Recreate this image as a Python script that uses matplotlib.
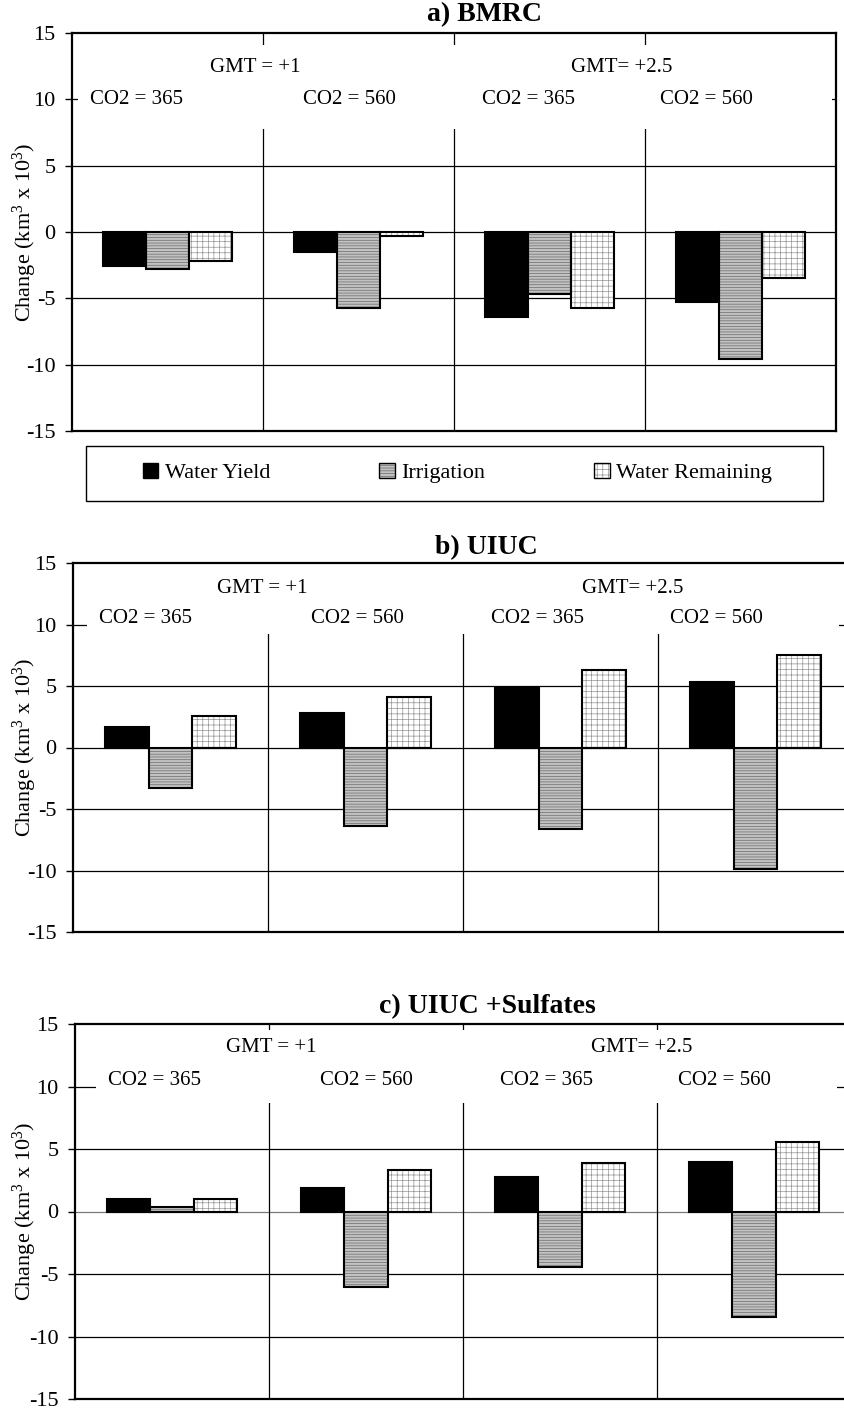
import numpy as np
import matplotlib
matplotlib.use('Agg')
import matplotlib.pyplot as plt
from matplotlib.patches import Rectangle, Patch

plt.rcParams['font.family'] = 'Liberation Serif'
plt.rcParams['mathtext.fontset'] = 'custom'
plt.rcParams['mathtext.rm'] = 'Liberation Serif'
plt.rcParams['mathtext.it'] = 'Liberation Serif:italic'
plt.rcParams['axes.unicode_minus'] = False
plt.rcParams['hatch.linewidth'] = 0.5

# --- data: change in km^3 x 10^3 for each scenario ---
scenarios = ['GMT +1 / CO2 365', 'GMT +1 / CO2 560', 'GMT +2.5 / CO2 365', 'GMT +2.5 / CO2 560']
series_names = ['Water Yield', 'Irrigation', 'Water Remaining']

bmrc_yield = [-2.6, -1.5, -6.4, -5.3]
bmrc_irrigation = [-2.8, -5.7, -4.7, -9.6]
bmrc_remaining = [-2.2, -0.3, -5.7, -3.5]

uiuc_yield = [1.7, 2.8, 4.8, 5.3]
uiuc_irrigation = [-3.3, -6.4, -6.6, -9.9]
uiuc_remaining = [2.6, 4.1, 6.3, 7.5]

sulf_yield = [1.0, 1.9, 2.8, 4.0]
sulf_irrigation = [0.4, -6.0, -4.4, -8.4]
sulf_remaining = [1.0, 3.3, 3.9, 5.6]

gmt_labels = ['GMT = +1', 'GMT= +2.5']
co2_labels = ['CO2 = 365', 'CO2 = 560', 'CO2 = 365', 'CO2 = 560']

# bar styles: face colour, hatch, hatch colour
styles = [
    dict(face='black', hatch=None, hcolor='black'),
    dict(face='#c2c2c2', hatch='------', hcolor='#6a6a6a'),
    dict(face='white', hatch='+++', hcolor='#949494'),
]

W, H = 844, 1409
fig = plt.figure(figsize=(W / 100, H / 100), dpi=100)


def px_rect(l, t, r, b):
    return [l / W, 1 - b / H, (r - l) / W, (b - t) / H]


# layout of the three panels (pixel boxes, label spots in data units)
panels = [
    dict(title='a) BMRC', data=(bmrc_yield, bmrc_irrigation, bmrc_remaining),
         box=(72, 33, 836, 431), title_xy=(485, 15),
         cover=(-0.47, 3.48, 7.8, 14.1),
         gmt_x=[0.46, 2.38], gmt_y=12.4, co2_x=[-0.16, 0.95, 1.89, 2.82], co2_y=10.0,
         zero_color='black'),
    dict(title='b) UIUC', data=(uiuc_yield, uiuc_irrigation, uiuc_remaining),
         box=(73, 563, 853, 932), title_xy=(486, 548),
         cover=(-0.43, 3.43, 9.2, 15.0),
         gmt_x=[0.47, 2.37], gmt_y=12.95, co2_x=[-0.13, 0.96, 1.88, 2.80], co2_y=10.45,
         zero_color='black'),
    dict(title='c) UIUC +Sulfates', data=(sulf_yield, sulf_irrigation, sulf_remaining),
         box=(75, 1024, 851, 1399), title_xy=(487, 1007),
         cover=(-0.39, 3.43, 8.7, 14.5),
         gmt_x=[0.51, 2.42], gmt_y=13.1, co2_x=[-0.09, 1.0, 1.93, 2.85], co2_y=10.5,
         zero_color='#7a7a7a'),
]

x = np.arange(len(scenarios))
bw = 0.225

for p in panels:
    l, t, r, b = p['box']
    ax = fig.add_axes(px_rect(l, t, r, b))
    ax.set_xlim(-0.5, 3.5)
    ax.set_ylim(-15, 15)
    ax.set_yticks(range(-15, 16, 5))
    ax.set_xticks([])
    ax.tick_params(axis='y', direction='out', length=5, width=1, labelsize=16, pad=7)

    # grid: horizontal lines and scenario dividers
    for v in [-10, -5, 0, 5, 10]:
        ax.axhline(v, color=p['zero_color'] if v == 0 else 'black', lw=0.9, zorder=1)
    for d in [0.5, 1.5, 2.5]:
        ax.axvline(d, color='black', lw=0.9, zorder=1)

    # white area behind the scenario labels
    cx0, cx1, cy0, cy1 = p['cover']
    ax.add_patch(Rectangle((cx0, cy0), cx1 - cx0, cy1 - cy0, facecolor='white',
                           edgecolor='none', zorder=1.5))

    for k, (vals, st) in enumerate(zip(p['data'], styles)):
        xs = x + (k - 1) * bw
        ax.bar(xs, vals, bw, color=st['face'], edgecolor=st['hcolor'], hatch=st['hatch'],
               linewidth=0, zorder=2)
        ax.bar(xs, vals, bw, fill=False, edgecolor='black', linewidth=1.5, zorder=2.2)

    for gx, lab in zip(p['gmt_x'], gmt_labels):
        ax.text(gx, p['gmt_y'], lab, ha='center', va='center', fontsize=15, zorder=3)
    for cx, lab in zip(p['co2_x'], co2_labels):
        ax.text(cx, p['co2_y'], lab, ha='center', va='center', fontsize=15, zorder=3)

    for side in ['left', 'bottom', 'top', 'right']:
        ax.spines[side].set_linewidth(1.6)
        ax.spines[side].set_zorder(2.5)

    fig.text(p['title_xy'][0] / W, 1 - p['title_xy'][1] / H, p['title'],
             fontsize=20, fontweight='bold', ha='center', va='center')
    fig.text(25 / W, 1 - ((t + b) / 2) / H, 'Change (km$^3$ x 10$^3$)', rotation=90,
             ha='center', va='center', fontsize=16)

# legend below the first panel
handles = []
for st in styles:
    fill = Patch(facecolor=st['face'], edgecolor=st['hcolor'], hatch=st['hatch'], linewidth=0)
    edge = Patch(fill=False, edgecolor='black', linewidth=1)
    handles.append((fill, edge))
fig.legend(handles, series_names, ncol=3, loc='center',
           bbox_to_anchor=(457.5 / W, 1 - 473 / H), frameon=False, fontsize=16,
           handlelength=0.7, handleheight=0.7, handletextpad=0.3, columnspacing=4.9)
fig.add_artist(Rectangle((86 / W, 1 - 501 / H), 737 / W, 55 / H, transform=fig.transFigure,
                         fill=False, edgecolor='black', linewidth=1))

fig.savefig('out.png', dpi=100)
